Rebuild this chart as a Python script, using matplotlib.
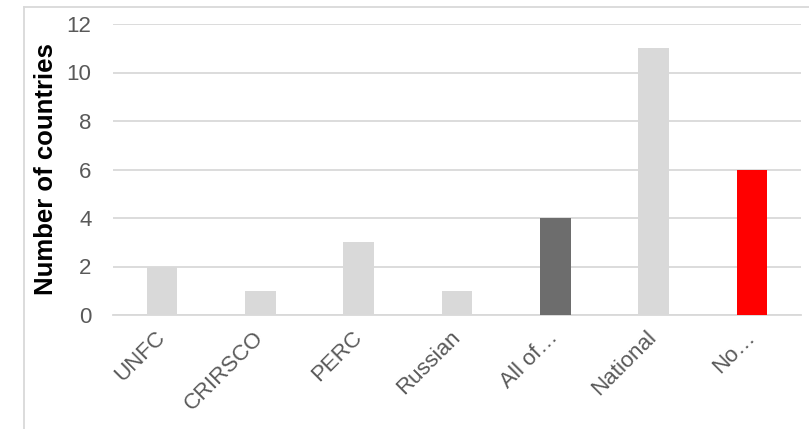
import matplotlib.pyplot as plt
from matplotlib.lines import Line2D

plt.rcParams['font.family'] = ['Liberation Sans', 'DejaVu Sans']

categories = ['UNFC', 'CRIRSCO', 'PERC', 'Russian', 'All of\u2026', 'National', 'No\u2026']
counts = [2, 1, 3, 1, 4, 11, 6]
colors = ['#d9d9d9', '#d9d9d9', '#d9d9d9', '#d9d9d9', '#6d6d6d', '#d9d9d9', '#ff0000']

fig = plt.figure(figsize=(8.09, 4.29), dpi=100)
ax = fig.add_axes([113 / 809, 1 - 315 / 429, (801 - 113) / 809, (315 - 24) / 429])

x = range(len(categories))
ax.bar(x, counts, width=0.31, color=colors, zorder=3)

ax.set_xlim(-0.5, len(categories) - 0.5)
ax.set_ylim(0, 12)
ax.set_yticks(range(0, 13, 2))
ax.yaxis.grid(True, color='#d9d9d9', linewidth=1.3, zorder=0)
ax.set_axisbelow(True)

for side in ['top', 'right', 'left']:
    ax.spines[side].set_visible(False)
ax.spines['bottom'].set_color('#d9d9d9')
ax.spines['bottom'].set_linewidth(1.3)
ax.tick_params(length=0, colors='#595959', labelsize=16)
ax.tick_params(axis='y', pad=15.5)
ax.tick_params(axis='x', pad=14)

ax.set_xticks(list(x))
ax.set_xticklabels(categories, rotation=45, ha='right', va='center', rotation_mode='anchor')
ax.set_ylabel('Number of countries', fontsize=18.5, fontweight='bold', color='black', labelpad=6)

# outer chart frame (top and left edges)
fig.add_artist(Line2D([24 / 809, 1.0], [1 - 7 / 429, 1 - 7 / 429], color='#d9d9d9', linewidth=1.3,
                      transform=fig.transFigure))
fig.add_artist(Line2D([24 / 809, 24 / 809], [0, 1 - 7 / 429], color='#d9d9d9', linewidth=1.3,
                      transform=fig.transFigure))

fig.savefig('out.png', dpi=100)
